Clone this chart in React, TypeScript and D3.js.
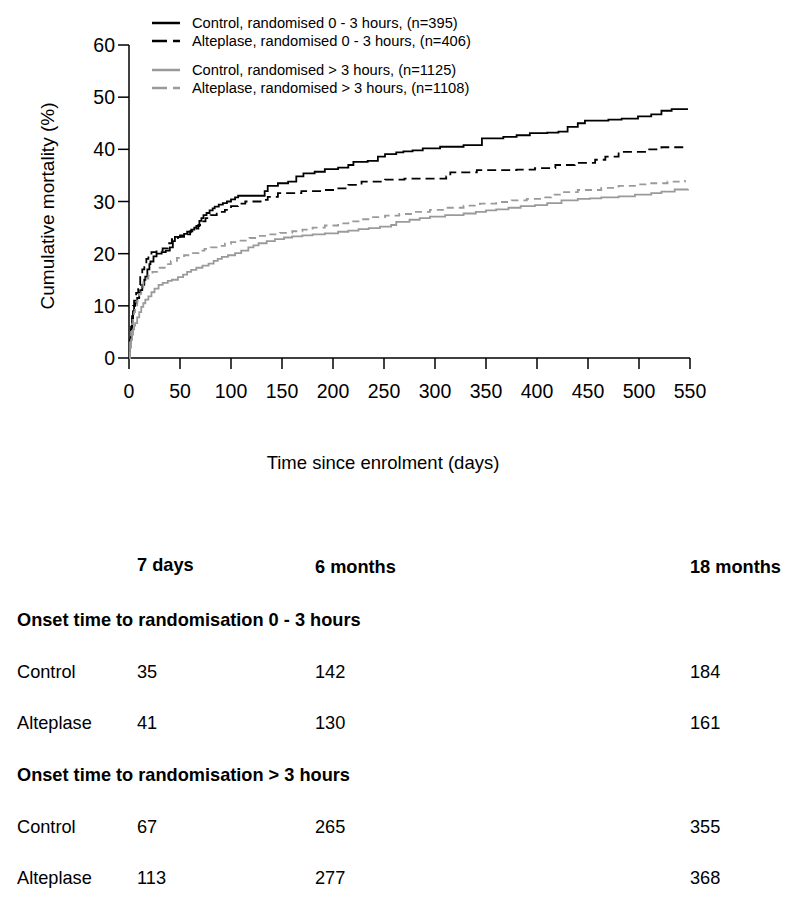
import React from "react";
import * as d3 from "d3";

// ---- Data ----
const ctrl03Days = [0,1,2,3,4,5,6,8,10,11,13,15,16,18,20,21,24,27,32,36,40,43,45,50,54,57,61,64,66,69,71,73,76,79,82,84,88,92,96,100,104,107,133,136,146,156,164,171,182,192,205,215,220,234,244,251,262,269,278,288,305,328,346,367,380,393,410,421,430,440,447,470,483,499,512,522,532,548];
const ctrl03Vals = [0,3,5.5,7.5,9,10,10.5,11.5,12.5,13,14,15,15.6,17,18,18.5,19.5,20,20.3,20.6,21.2,22.4,23.2,23.5,23.8,24.2,24.6,25,25.3,26.3,26.8,27.4,27.8,28.3,28.7,29,29.4,29.7,30,30.4,30.8,31.1,32,33,33.5,33.8,34.8,35.4,35.7,36.2,36.5,37,37.6,37.8,38.6,39.1,39.4,39.6,39.8,40.2,40.5,40.8,42.1,42.4,42.7,43.1,43.2,43.4,44.3,45,45.5,45.7,45.9,46.3,46.7,47.4,47.7,47.7];

const alt03Days = [0,1,2,3,4,5,7,9,11,13,15,17,19,22,27,33,38,42,48,55,60,64,68,71,75,80,86,94,100,107,114,133,136,146,169,189,202,215,228,251,270,311,315,341,380,398,418,437,457,467,480,509,522,545];
const alt03Vals = [0,3.5,6,8,10,11,12.5,14,15.5,17,18,19,19.8,20.3,20.6,21,22,22.8,23.2,23.7,24.3,24.8,25.5,26.2,26.8,27.4,28,28.4,29.1,29.6,30,30.3,30.9,31.6,32,32.2,32.5,33.2,33.8,34.2,34.4,34.8,35.6,36,36.1,36.4,37,37.4,38,38.6,39.5,40,40.4,40.4];

const ctrl3Days = [0,1,2,3,4,5,6,8,10,12,14,16,19,22,25,29,33,38,42,48,53,57,61,66,72,78,83,87,91,97,104,110,117,122,127,135,143,152,160,170,180,192,205,215,225,235,246,257,262,275,285,295,310,328,340,350,360,372,384,398,410,424,440,452,463,480,496,512,522,535,548];
const ctrl3Vals = [0,2,3.5,4.5,5.5,6.2,6.7,7.8,8.8,9.8,10.5,11.2,11.8,12.6,13.3,14,14.4,14.8,15,15.5,16,16.5,16.9,17.3,17.7,18.1,18.6,19,19.4,19.7,20.1,20.6,21.2,21.6,22,22.4,22.8,23.1,23.3,23.5,23.7,23.9,24.2,24.4,24.7,24.9,25.2,25.5,26.1,26.5,26.8,27.1,27.4,27.7,28,28.3,28.5,28.8,29.1,29.3,29.7,30.2,30.5,30.6,30.8,31,31.3,31.6,31.9,32.3,32.4];

const alt3Days = [0,1,2,3,4,5,6,8,10,12,14,16,19,23,29,35,41,47,54,61,68,74,80,87,94,100,108,118,127,137,148,160,170,180,192,205,215,225,238,251,265,279,295,311,328,344,360,375,390,403,414,424,440,463,480,496,512,528,545];
const alt3Vals = [0,3,5,6.5,7.8,8.8,9.8,11,12.3,13.5,14.5,15.2,15.8,16.5,17.3,18,18.6,19.2,19.7,20.1,20.6,20.9,21.2,21.5,21.9,22.2,22.5,23,23.4,23.7,24,24.3,24.6,25,25.4,25.8,26.2,26.6,27,27.3,27.6,28,28.4,28.8,29.2,29.6,29.9,30.2,30.5,30.8,31.3,31.8,32.2,32.6,33,33.3,33.5,33.8,34.1];

const xTicks = [0,50,100,150,200,250,300,350,400,450,500,550];
const yTicks = [0,10,20,30,40,50,60];

const legendLabels = [
  "Control, randomised 0 - 3 hours, (n=395)",
  "Alteplase, randomised 0 - 3 hours, (n=406)",
  "Control, randomised > 3 hours, (n=1125)",
  "Alteplase, randomised > 3 hours, (n=1108)",
];

const tableHeaders = ["7 days", "6 months", "18 months"];
const groupTitles = ["Onset time to randomisation 0 - 3 hours", "Onset time to randomisation > 3 hours"];
const rowLabels = ["Control", "Alteplase"];
const group1Values = [[35, 142, 184], [41, 130, 161]];
const group2Values = [[67, 265, 355], [113, 277, 368]];

const BLACK = "#000";
const GREY = "#9a9a9a";

export default function App() {
  const x = d3.scaleLinear().domain([0, 550]).range([129, 690]);
  const y = d3.scaleLinear().domain([0, 60]).range([358, 45]);
  const line = d3
    .line<[number, number]>()
    .x((d) => x(d[0]))
    .y((d) => y(d[1]))
    .curve(d3.curveStepAfter);
  const zip = (a: number[], b: number[]) => a.map((v, i) => [v, b[i]] as [number, number]);

  const series = [
    { data: zip(ctrl03Days, ctrl03Vals), color: BLACK, dash: null, legDash: null },
    { data: zip(alt03Days, alt03Vals), color: BLACK, dash: "9,5", legDash: "15,6" },
    { data: zip(ctrl3Days, ctrl3Vals), color: GREY, dash: null, legDash: null },
    { data: zip(alt3Days, alt3Vals), color: GREY, dash: "7,5", legDash: "15,6" },
  ];
  const legendY = [23, 41, 70, 88];
  const font = "'Liberation Sans', Arial, sans-serif";
  const colX = [137, 315, 690];

  return (
    <div style={{ position: "absolute", left: 0, top: 0 }}>
      <svg width={800} height={908} style={{ display: "block", fontFamily: font }}>
        <rect width={800} height={908} fill="#fff" />
        {/* axes */}
        <line x1={x(0)} x2={x(550)} y1={y(0)} y2={y(0)} stroke="#000" strokeWidth={1.5} />
        <line x1={x(0)} x2={x(0)} y1={y(0)} y2={y(60)} stroke="#000" strokeWidth={1.5} />
        {xTicks.map((t) => (
          <g key={"x" + t}>
            <line x1={x(t)} x2={x(t)} y1={y(0)} y2={y(0) + 11} stroke="#000" strokeWidth={1.5} />
            <text x={x(t)} y={398} fontSize={19.5} textAnchor="middle">{t}</text>
          </g>
        ))}
        {yTicks.map((t) => (
          <g key={"y" + t}>
            <line x1={x(0) - 11} x2={x(0)} y1={y(t)} y2={y(t)} stroke="#000" strokeWidth={1.5} />
            <text x={115} y={y(t) + 7} fontSize={19.5} textAnchor="end">{t}</text>
          </g>
        ))}
        <text x={383} y={469} fontSize={18.5} textAnchor="middle">Time since enrolment (days)</text>
        <text transform="translate(54,206) rotate(-90)" fontSize={19} textAnchor="middle">Cumulative mortality (%)</text>

        {/* curves */}
        {series.map((s, i) => (
          <path
            key={"s" + i}
            d={line(s.data) || ""}
            fill="none"
            stroke={s.color}
            strokeWidth={1.8}
            strokeDasharray={s.dash || undefined}
          />
        ))}

        {/* legend */}
        {series.map((s, i) => (
          <g key={"l" + i}>
            <line x1={152} x2={180} y1={legendY[i]} y2={legendY[i]} stroke={s.color} strokeWidth={2.5} strokeDasharray={s.legDash || undefined} />
            <text x={192} y={legendY[i] + 5} fontSize={14.7}>{legendLabels[i]}</text>
          </g>
        ))}

        {/* table */}
        {tableHeaders.map((h, i) => (
          <text key={"h" + i} x={colX[i]} y={i === 0 ? 571 : 573} fontSize={18.2} fontWeight="bold">{h}</text>
        ))}
        {[{ title: groupTitles[0], vals: group1Values, y0: 626 }, { title: groupTitles[1], vals: group2Values, y0: 781 }].map((g, gi) => (
          <g key={"g" + gi}>
            <text x={17} y={g.y0} fontSize={18.2} fontWeight="bold">{g.title}</text>
            {g.vals.map((row, ri) => (
              <g key={"r" + ri}>
                <text x={17} y={g.y0 + 51 * (ri + 1) + 1} fontSize={18.2}>{rowLabels[ri]}</text>
                {row.map((v, ci) => (
                  <text key={ci} x={colX[ci]} y={g.y0 + 51 * (ri + 1) + 1} fontSize={18.2}>{v}</text>
                ))}
              </g>
            ))}
          </g>
        ))}
      </svg>
    </div>
  );
}
